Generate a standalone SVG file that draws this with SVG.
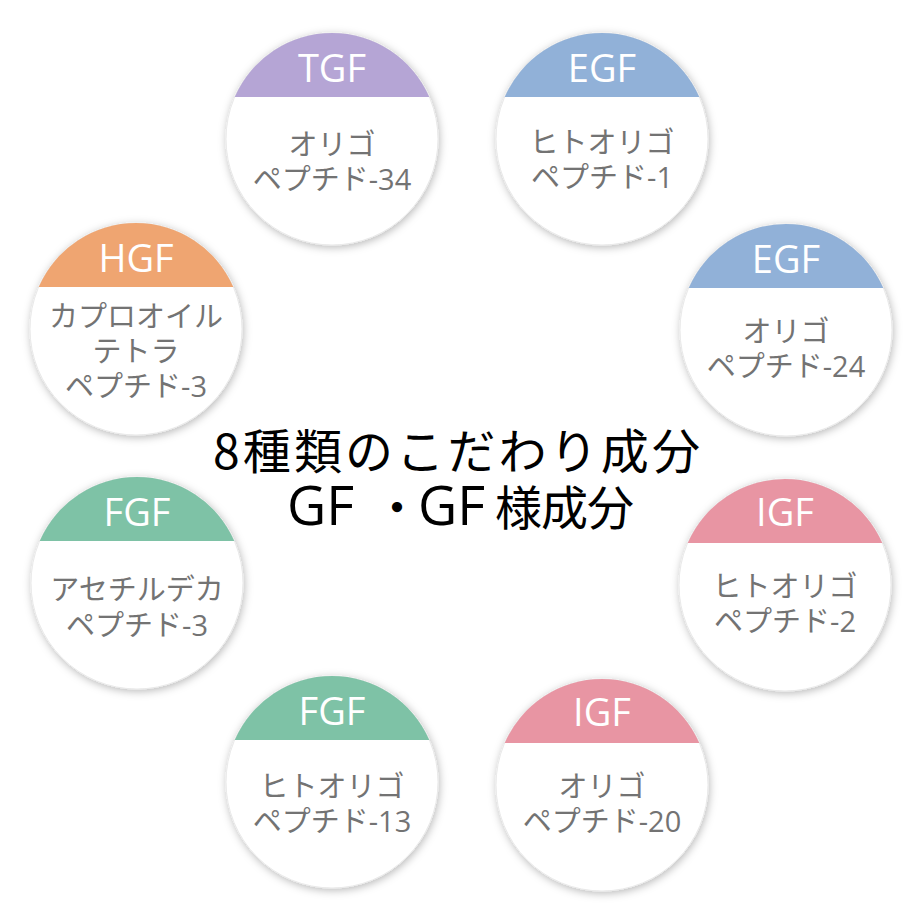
<svg xmlns="http://www.w3.org/2000/svg" width="920" height="920" viewBox="0 0 920 920">
  <defs>
    <filter id="sh" x="-20%" y="-20%" width="140%" height="140%">
      <feDropShadow dx="1" dy="2" stdDeviation="4" flood-color="#000" flood-opacity="0.28"/>
    </filter>
    <style>
      .disc { fill: #ffffff; stroke: #e9e9e9; stroke-width: 1; filter: url(#sh); }
      .hd { font-family: "Open Sans", "Noto Sans", sans-serif; font-size: 38px; fill: #ffffff; text-anchor: middle; }
      .bd { font-family: "Open Sans", "Noto Sans CJK JP", sans-serif; font-size: 29px; fill: #737373; text-anchor: middle; }
      .ttl { font-family: "Noto Sans CJK JP", sans-serif; font-size: 48px; fill: #000000; }
      .lat { font-family: "Open Sans", "Noto Sans CJK JP", sans-serif; font-size: 54px; }
      .tgf { fill: #b5a5d5; }
      .egf { fill: #91b1d8; }
      .hgf { fill: #efa571; }
      .fgf { fill: #7ec2a6; }
      .igf { fill: #e895a3; }
    </style>
  </defs>
  <rect x="0" y="0" width="920" height="920" fill="#ffffff"/>

  <g id="node-tgf" transform="translate(332,139)">
    <circle class="disc" cx="0" cy="0" r="106"/>
    <path class="tgf" d="M -97.3 -42 A 106 106 0 0 1 97.3 -42 Z"/>
    <text class="hd" x="0" y="-57">TGF</text>
    <text class="bd" x="0" y="16">オリゴ</text>
    <text class="bd" x="0" y="51">ペプチド-34</text>
  </g>

  <g id="node-egf-1" transform="translate(602,139)">
    <circle class="disc" cx="0" cy="0" r="106"/>
    <path class="egf" d="M -97.3 -42 A 106 106 0 0 1 97.3 -42 Z"/>
    <text class="hd" x="0" y="-57">EGF</text>
    <text class="bd" x="0" y="14">ヒトオリゴ</text>
    <text class="bd" x="0" y="49">ペプチド-1</text>
  </g>

  <g id="node-egf-2" transform="translate(786,330)">
    <circle class="disc" cx="0" cy="0" r="106"/>
    <path class="egf" d="M -97.3 -42 A 106 106 0 0 1 97.3 -42 Z"/>
    <text class="hd" x="0" y="-57">EGF</text>
    <text class="bd" x="0" y="12">オリゴ</text>
    <text class="bd" x="0" y="47">ペプチド-24</text>
  </g>

  <g id="node-hgf" transform="translate(136,329)">
    <circle class="disc" cx="0" cy="0" r="106"/>
    <path class="hgf" d="M -97.3 -42 A 106 106 0 0 1 97.3 -42 Z"/>
    <text class="hd" x="0" y="-57">HGF</text>
    <text class="bd" x="0" y="-2">カプロオイル</text>
    <text class="bd" x="0" y="33">テトラ</text>
    <text class="bd" x="0" y="68">ペプチド-3</text>
  </g>

  <g id="node-fgf-1" transform="translate(137,583)">
    <circle class="disc" cx="0" cy="0" r="106"/>
    <path class="fgf" d="M -97.3 -42 A 106 106 0 0 1 97.3 -42 Z"/>
    <text class="hd" x="0" y="-57">FGF</text>
    <text class="bd" x="0" y="17">アセチルデカ</text>
    <text class="bd" x="0" y="53">ペプチド-3</text>
  </g>

  <g id="node-igf-1" transform="translate(785,585)">
    <circle class="disc" cx="0" cy="0" r="106"/>
    <path class="igf" d="M -97.3 -42 A 106 106 0 0 1 97.3 -42 Z"/>
    <text class="hd" x="0" y="-59">IGF</text>
    <text class="bd" x="0" y="12">ヒトオリゴ</text>
    <text class="bd" x="0" y="47">ペプチド-2</text>
  </g>

  <g id="node-fgf-2" transform="translate(332,782)">
    <circle class="disc" cx="0" cy="0" r="106"/>
    <path class="fgf" d="M -97.3 -42 A 106 106 0 0 1 97.3 -42 Z"/>
    <text class="hd" x="0" y="-57">FGF</text>
    <text class="bd" x="0" y="15">ヒトオリゴ</text>
    <text class="bd" x="0" y="50">ペプチド-13</text>
  </g>

  <g id="node-igf-2" transform="translate(602,785)">
    <circle class="disc" cx="0" cy="0" r="106"/>
    <path class="igf" d="M -97.3 -42 A 106 106 0 0 1 97.3 -42 Z"/>
    <text class="hd" x="0" y="-59">IGF</text>
    <text class="bd" x="0" y="12">オリゴ</text>
    <text class="bd" x="0" y="47">ペプチド-20</text>
  </g>

  <g id="connectors"></g>

  <g id="title">
    <text class="ttl" x="213" y="469" textLength="487" lengthAdjust="spacing">8種類のこだわり成分</text>
    <text class="ttl" y="525"><tspan class="lat" x="287">GF</tspan><tspan x="373">・</tspan><tspan class="lat" x="418">GF</tspan><tspan x="495" font-size="47" letter-spacing="-1">様成分</tspan></text>
  </g>
</svg>
